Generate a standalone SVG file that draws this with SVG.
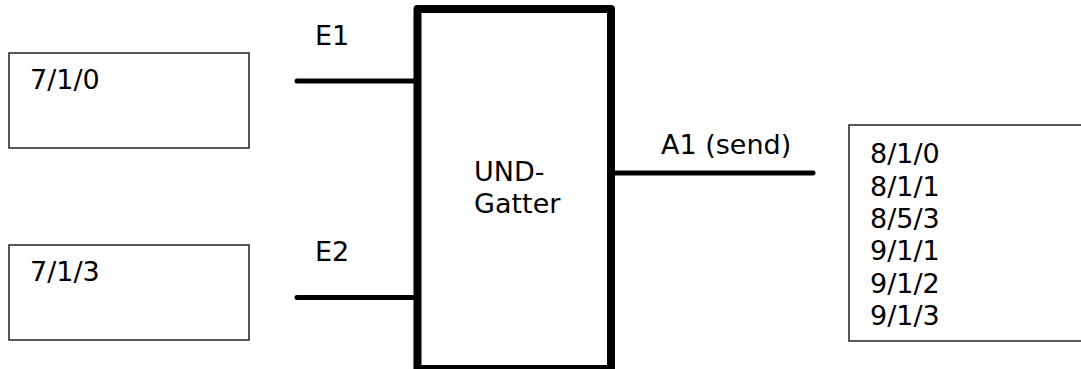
<svg xmlns="http://www.w3.org/2000/svg" width="1081" height="369" viewBox="0 0 1081 369">
<style>
text{font-family:"DejaVu Sans","Verdana",sans-serif;font-size:27px;fill:#000}
.box{fill:#fff;stroke:#222;stroke-width:1.5}
.gate{fill:#fff;stroke:#000;stroke-width:8;stroke-linejoin:round}
.wire{stroke:#000;stroke-width:5;stroke-linecap:round;fill:none}
</style>
<rect width="1081" height="369" fill="#fff"/>
<g id="in1">
<rect class="box" x="9" y="53" width="240" height="95"/>
<text x="30" y="89">7/1/0</text>
</g>
<g id="in2">
<rect class="box" x="9" y="245" width="240" height="95"/>
<text x="30" y="281">7/1/3</text>
</g>
<g id="connectors">
<line class="wire" x1="297" y1="81" x2="416" y2="81"/>
<line class="wire" x1="297" y1="297.5" x2="416" y2="297.5"/>
<line class="wire" x1="609" y1="173" x2="813" y2="173"/>
<text x="315" y="45">E1</text>
<text x="315" y="261">E2</text>
<text x="661" y="154">A1 (send)</text>
</g>
<g id="gate">
<rect class="gate" x="417.5" y="9" width="193.5" height="360"/>
<text x="474" y="181">UND-</text>
<text x="474" y="213">Gatter</text>
</g>
<g id="out">
<rect class="box" x="849" y="125" width="240" height="216"/>
<text x="870" y="163">8/1/0</text>
<text x="870" y="195.5">8/1/1</text>
<text x="870" y="228">8/5/3</text>
<text x="870" y="260">9/1/1</text>
<text x="870" y="292.5">9/1/2</text>
<text x="870" y="325">9/1/3</text>
</g>
</svg>
